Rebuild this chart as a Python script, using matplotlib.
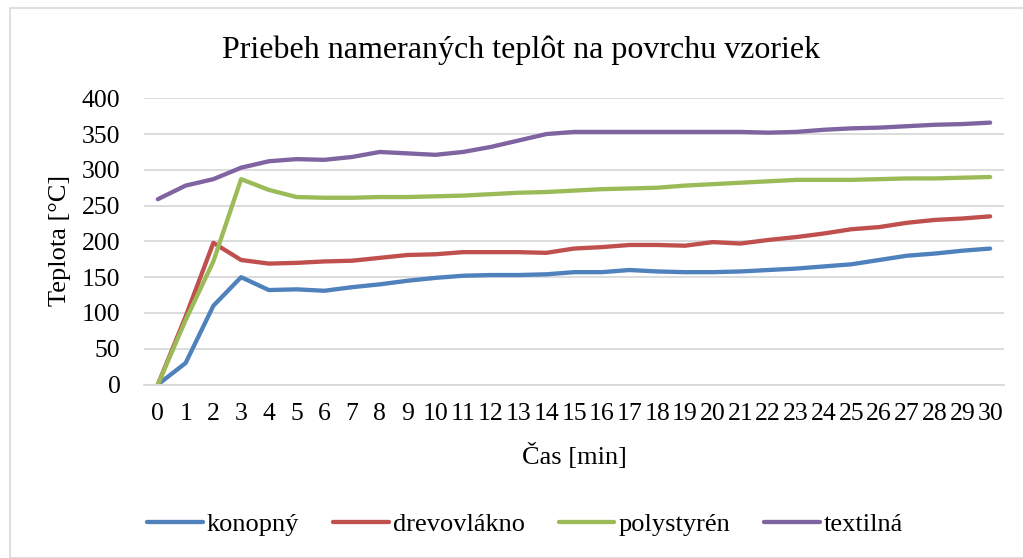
import matplotlib
matplotlib.use("Agg")
import matplotlib.pyplot as plt
from matplotlib.patches import Rectangle

minutes = list(range(31))
konopny = [0, 30, 110, 150, 132, 133, 131, 136, 140, 145, 149, 152, 153, 153, 154, 157,
           157, 160, 158, 157, 157, 158, 160, 162, 165, 168, 174, 180, 183, 187, 190]
drevovlakno = [0, 95, 198, 174, 169, 170, 172, 173, 177, 181, 182, 185, 185, 185, 184, 190,
               192, 195, 195, 194, 199, 197, 202, 206, 211, 217, 220, 226, 230, 232, 235]
polystyren = [0, 90, 172, 287, 272, 262, 261, 261, 262, 262, 263, 264, 266, 268, 269, 271,
              273, 274, 275, 278, 280, 282, 284, 286, 286, 286, 287, 288, 288, 289, 290]
textilna = [259, 278, 287, 303, 312, 315, 314, 318, 325, 323, 321, 325, 332, 341, 350, 353,
            353, 353, 353, 353, 353, 353, 352, 353, 356, 358, 359, 361, 363, 364, 366]

series = [
    ("konopný", konopny, "#4F81BD"),
    ("drevovlákno", drevovlakno, "#C0504D"),
    ("polystyrén", polystyren, "#9BBB59"),
    ("textilná", textilna, "#8064A2"),
]

plt.rcParams['font.family'] = ['Liberation Serif', 'DejaVu Serif']

W, H = 1023, 558
fig = plt.figure(figsize=(W / 100, H / 100), dpi=100)
# chart-area border, cut off at the right and bottom like in the original
fig.patches.append(Rectangle((10 / W, 0), 1.2, 1 - 8 / H, transform=fig.transFigure,
                             fill=False, edgecolor="#D9D9D9", linewidth=1.2))

ax = fig.add_axes([144 / W, 1 - 384.5 / H, 860 / W, 286.2 / H])
for name, vals, col in series:
    ax.plot(minutes, vals, color=col, linewidth=3.1, label=name, solid_capstyle="round")

ax.set_xlim(-0.5, 30.5)
ax.set_ylim(0, 400)
ax.set_yticks(range(0, 401, 50))
ax.set_xticks(minutes)
ax.set_xticklabels([str(m) for m in minutes])
ax.tick_params(axis="both", length=0, labelsize=18.5)
ax.tick_params(axis="x", pad=13)
ax.tick_params(axis="y", pad=17)
ax.grid(axis="y", color="#D9D9D9", linewidth=1.3)
ax.set_axisbelow(True)
for s in ax.spines.values():
    s.set_visible(False)
ax.spines["bottom"].set_visible(True)
ax.spines["bottom"].set_color("#D9D9D9")
ax.spines["bottom"].set_linewidth(1.3)

fig.text(521 / W, 1 - 58 / H, "Priebeh nameraných teplôt na povrchu vzoriek",
         ha="center", va="baseline", fontsize=23)
fig.text(574 / W, 1 - 456 / H, "Čas [min]", ha="center", va="center", fontsize=19)
fig.text(60 / W, 1 - 240 / H, "Teplota [°C]", ha="center", va="center",
         rotation=90, fontsize=19)

fig.legend(loc="center", bbox_to_anchor=(525 / W, 1 - 524 / H), ncol=4, frameon=False,
           fontsize=19, handlelength=2.1, handletextpad=0.15, columnspacing=1.3)

fig.savefig("out.png", dpi=100)
